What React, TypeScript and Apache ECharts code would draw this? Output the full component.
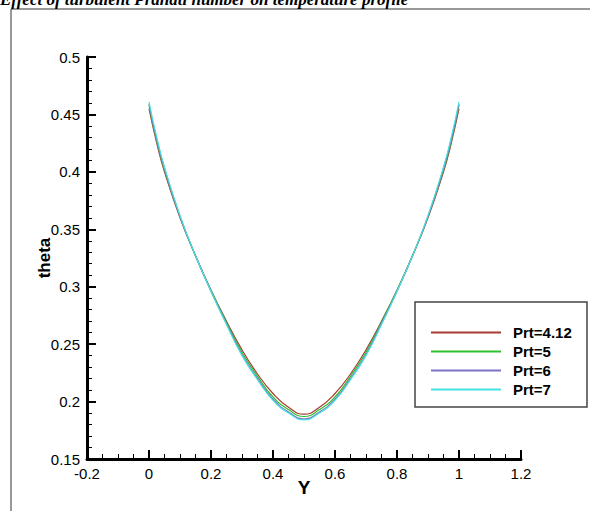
import React, { useEffect, useRef } from "react";
import * as echarts from "echarts";

const yPos = [0, 0.025, 0.05, 0.1, 0.15, 0.2, 0.25, 0.3, 0.35, 0.4, 0.45, 0.5, 0.55, 0.6, 0.65, 0.7, 0.75, 0.8, 0.85, 0.9, 0.95, 0.975, 1];
const thetaPrt412 = [0.455, 0.425, 0.400, 0.360, 0.327, 0.297, 0.270, 0.245, 0.224, 0.207, 0.195, 0.189, 0.195, 0.207, 0.224, 0.245, 0.270, 0.297, 0.327, 0.360, 0.400, 0.425, 0.455];
const thetaPrt5 = [0.458, 0.427, 0.402, 0.361, 0.327, 0.297, 0.269, 0.243, 0.222, 0.204, 0.193, 0.187, 0.193, 0.204, 0.222, 0.243, 0.269, 0.297, 0.327, 0.361, 0.402, 0.427, 0.458];
const thetaPrt6 = [0.459, 0.428, 0.403, 0.361, 0.327, 0.296, 0.268, 0.241, 0.220, 0.202, 0.191, 0.185, 0.191, 0.202, 0.220, 0.241, 0.268, 0.296, 0.327, 0.361, 0.403, 0.428, 0.459];
const thetaPrt7 = [0.461, 0.430, 0.404, 0.362, 0.327, 0.296, 0.267, 0.240, 0.219, 0.201, 0.190, 0.184, 0.190, 0.201, 0.219, 0.240, 0.267, 0.296, 0.327, 0.362, 0.404, 0.430, 0.461];
const seriesNames = ["Prt=4.12", "Prt=5", "Prt=6", "Prt=7"];
const seriesColors = ["#a83a32", "#2ec02e", "#7a72c4", "#45e0e0"];
const seriesData = [thetaPrt412, thetaPrt5, thetaPrt6, thetaPrt7];
const headerText = "Effect of turbulent Prandtl number on temperature profile";

export default function App() {
  const ref = useRef<HTMLDivElement>(null);
  useEffect(() => {
    if (!ref.current) return;
    const chart = echarts.init(ref.current, null, { renderer: "svg" });
    const font = "Liberation Sans, Arial, sans-serif";
    chart.setOption({
      animation: false,
      backgroundColor: "#ffffff",
      grid: { left: 87, right: 69, top: 57, bottom: 52 },
      xAxis: {
        type: "value",
        min: -0.2,
        max: 1.2,
        interval: 0.2,
        name: "Y",
        nameLocation: "middle",
        nameGap: 19,
        nameMoveOverlap: false,
        nameTextStyle: { fontFamily: font, fontWeight: "bold", fontSize: 19, color: "#000", verticalAlign: "top" },
        axisLine: { show: true, onZero: false, lineStyle: { color: "#000", width: 3 } },
        axisTick: { show: true, inside: true, length: 9, lineStyle: { color: "#000", width: 2 } },
        minorTick: { show: true, splitNumber: 4, length: 5, lineStyle: { color: "#000", width: 1 } },
        splitLine: { show: false },
        axisLabel: {
          fontFamily: font, fontSize: 15, color: "#000", margin: 7,
          formatter: (v: number) => String(Math.round(v * 10) / 10),
        },
      },
      yAxis: {
        type: "value",
        min: 0.15,
        max: 0.5,
        interval: 0.05,
        name: "theta",
        nameLocation: "middle",
        nameGap: 34,
        nameMoveOverlap: false,
        nameRotate: 90,
        nameTextStyle: { fontFamily: font, fontWeight: "bold", fontSize: 17, color: "#000" },
        axisLine: { show: true, onZero: false, lineStyle: { color: "#000", width: 3 } },
        axisTick: { show: true, inside: true, length: 9, lineStyle: { color: "#000", width: 2 } },
        minorTick: { show: true, splitNumber: 5, length: 5, lineStyle: { color: "#000", width: 1 } },
        splitLine: { show: false },
        axisLabel: {
          fontFamily: font, fontSize: 15, color: "#000", margin: 7,
          formatter: (v: number) => String(Math.round(v * 100) / 100),
        },
      },
      legend: {
        orient: "vertical",
        left: 431,
        top: 325,
        z: 10,
        icon: "rect",
        itemWidth: 70,
        itemHeight: 2,
        itemGap: 4,
        padding: 0,
        data: seriesNames,
        textStyle: { fontFamily: font, fontWeight: "bold", fontSize: 15, color: "#000", lineHeight: 14, padding: [0, 0, 0, 7] },
      },
      graphic: [
        {
          type: "rect",
          z: 0,
          silent: true,
          shape: { x: 11, y: 9, width: 600, height: 600 },
          style: { fill: "none", stroke: "#333", lineWidth: 1 },
        },
        {
          type: "text",
          z: 1,
          x: 0,
          y: 8,
          style: {
            text: headerText,
            font: "italic bold 17px 'Liberation Serif', serif",
            fill: "#000",
            verticalAlign: "bottom",
          },
        },
        {
          type: "rect",
          z: 3,
          shape: { x: 415, y: 302, width: 172, height: 105 },
          style: { fill: "#fff", stroke: "#444", lineWidth: 1.5 },
        },
      ],
      series: seriesNames.map((name, i) => ({
        name,
        type: "line",
        smooth: true,
        symbol: "none",
        color: seriesColors[i],
        itemStyle: { color: seriesColors[i] },
        lineStyle: { color: seriesColors[i], width: 1.2 },
        data: yPos.map((y, j) => [y, seriesData[i][j]]),
      })),
    });
    return () => chart.dispose();
  }, []);
  return (
    <div style={{ position: "absolute", left: 0, top: 0 }}>
      <div ref={ref} style={{ width: 590, height: 511 }} />
    </div>
  );
}
